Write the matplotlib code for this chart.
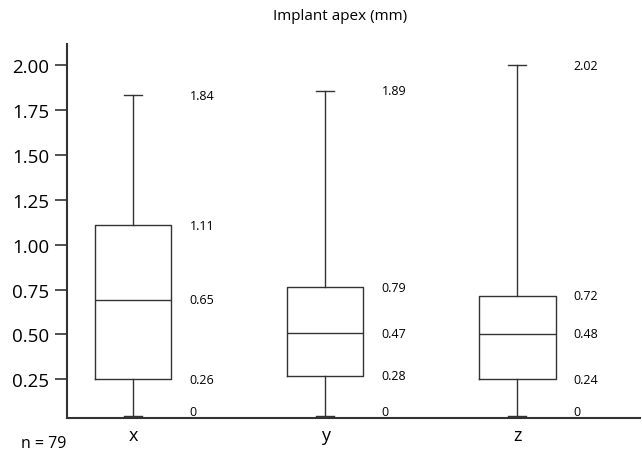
import matplotlib
matplotlib.use("Agg")
import matplotlib.pyplot as plt

plt.rcParams["font.family"] = ["Open Sans", "DejaVu Sans"]

categories = ["x", "y", "z"]

# drawn box positions (mm)
whisker_low = [0.045, 0.045, 0.045]
q1 = [0.25, 0.27, 0.25]
median = [0.693, 0.507, 0.504]
q3 = [1.107, 0.763, 0.715]
whisker_high = [1.833, 1.857, 2.0]

# printed value labels next to each box
label_high = ["1.84", "1.89", "2.02"]
label_q3 = ["1.11", "0.79", "0.72"]
label_med = ["0.65", "0.47", "0.48"]
label_q1 = ["0.26", "0.28", "0.24"]
label_low = ["0", "0", "0"]

yticks = [0.25, 0.50, 0.75, 1.00, 1.25, 1.50, 1.75, 2.00]

line_color = "#333333"

fig = plt.figure(figsize=(6.42, 4.52), dpi=100)
ax = fig.add_axes([67 / 642, 1 - 419 / 452, 573 / 642, 374 / 452])

stats = []
for i, name in enumerate(categories):
    stats.append({
        "label": name,
        "whislo": whisker_low[i],
        "q1": q1[i],
        "med": median[i],
        "q3": q3[i],
        "whishi": whisker_high[i],
    })

positions = [1, 2, 3]
line_kw = dict(color=line_color, linewidth=1.0)
ax.bxp(
    stats,
    positions=positions,
    widths=0.40,
    capwidths=0.095,
    showfliers=False,
    boxprops=line_kw,
    whiskerprops=line_kw,
    capprops=line_kw,
    medianprops=line_kw,
)

# value labels
text_off = 0.295
for i, p in enumerate(positions):
    tx = p + text_off
    ax.text(tx, whisker_high[i], label_high[i], va="center", ha="left", fontsize=9)
    ax.text(tx, q3[i], label_q3[i], va="center", ha="left", fontsize=9)
    ax.text(tx, median[i], label_med[i], va="center", ha="left", fontsize=9)
    ax.text(tx, q1[i], label_q1[i], va="center", ha="left", fontsize=9)
    ax.text(tx, whisker_low[i] + 0.027, label_low[i], va="center", ha="left", fontsize=9)

ax.set_xlim(0.656, 3.64)
ax.set_ylim(0.035, 2.117)
ax.set_yticks(yticks)
ax.set_yticklabels([f"{v:.2f}" for v in yticks], fontsize=13.5)
ax.set_xticks(positions)
ax.set_xticklabels(categories, fontsize=13)
ax.tick_params(axis="x", length=0, pad=6)
ax.tick_params(axis="y", direction="out", length=9, width=1.2, color=line_color, pad=4)

for side in ["top", "right"]:
    ax.spines[side].set_visible(False)
for side in ["left", "bottom"]:
    ax.spines[side].set_color(line_color)
    ax.spines[side].set_linewidth(1.5)

fig.text(340 / 642, 1 - 17 / 452, "Implant apex (mm)", ha="center", va="center", fontsize=11)
fig.text(21 / 642, 1 - 444 / 452, "n = 79", ha="left", va="center", fontsize=11.5)

fig.savefig("out.png", dpi=100)
